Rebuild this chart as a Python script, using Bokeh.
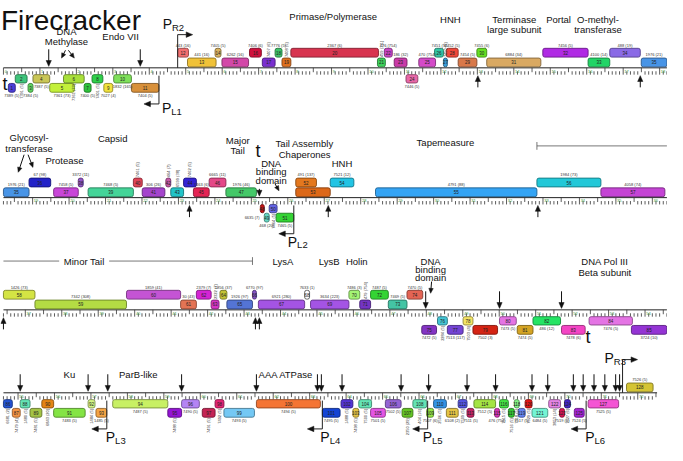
import math
import numpy as np
from bokeh.plotting import figure
from bokeh.models import Range1d
from bokeh.embed import file_html
from bokeh.resources import INLINE
from bokeh.core.properties import value

# ---------------- data ----------------
TITLE = "Firecracker"
ROW_LEN = 18200          # bp per ruler row
GENOME_LEN = 72530       # bp

gene_id = list(range(1, 126)) + [127, 128]
gene_start = [135, 324, 675, 810, 1269, 1647, 2214, 2430, 2754, 3024,
              3510, 4779, 5049, 5805, 5994, 6750, 7101, 7452, 7641, 7884,
              10260, 10449, 10719, 11043, 11394, 11826, 12069, 12150, 12474, 12987,
              13257, 14796, 16038, 16632, 17496, 18902, 19577, 20252, 20522, 21764,
              22007, 22655, 22790, 23141, 23411, 23843, 24302, 25247, 25355, 25490,
              25679, 26219, 26219, 27164, 28406, 32834, 34589, 36400, 37264, 39775,
              41260, 41692, 42097, 42340, 42529, 43231, 43393, 44662, 44824, 45877,
              46174, 46471, 46957, 47470, 47875, 48307, 48577, 49009, 49279, 50008,
              50494, 50926, 51709, 52465, 53626, 54600, 54843, 55059, 55329, 55653,
              55977, 56922, 57138, 57597, 59109, 59487, 60054, 60405, 60648, 61539,
              63348, 63861, 64185, 64347, 64671, 65076, 65535, 65832, 66210, 66399,
              66750, 67074, 67317, 67506, 68073, 68208, 68451, 68613, 68721, 68910,
              69099, 69558, 69855, 69990, 70260, 70638, 71691]
gene_end = [324, 648, 810, 1269, 1944, 2214, 2403, 2727, 2997, 3510,
            4266, 5076, 5832, 5967, 6723, 7074, 7452, 7641, 7884, 10287,
            10476, 10665, 11070, 11367, 11853, 12069, 12177, 12474, 12987, 13257,
            14742, 16038, 16632, 17469, 18902, 19496, 20252, 20387, 21764, 22007,
            22628, 22790, 23141, 23492, 23843, 24302, 25139, 25355, 25490, 25706,
            26165, 26786, 27164, 27812, 32834, 34589, 36344, 37264, 39775, 41260,
            41692, 42097, 42313, 42529, 43231, 43339, 44662, 44797, 45877, 46174,
            46471, 46957, 47470, 47902, 48280, 48577, 49009, 49279, 49954, 50467,
            50926, 51682, 52357, 53653, 54598, 54843, 55059, 55329, 55653, 55977,
            56841, 57111, 57435, 59109, 59487, 59973, 60405, 60648, 61485, 63294,
            63834, 64185, 64347, 64698, 65076, 65508, 65832, 66210, 66399, 66750,
            67074, 67317, 67506, 68100, 68208, 68451, 68613, 68748, 68910, 69099,
            69531, 69882, 69990, 70152, 70530, 71475, 72420]
# +1/+2 = above the ruler (near/far), -1/-2 = below the ruler (near/far)
gene_level = [-2, -1, -2, -1, -2, -1, -2, -1, -2, -1,
              -2, 2, 1, 2, 1, 2, 1, 2, 1, 2,
              1, 2, 1, -1, 1, 2, 1, 2, 1, 2,
              1, 2, 1, 2, 1, 2, 1, 2, 1, 2,
              1, 2, 1, 2, 1, 2, 1, -1, -2, -1,
              -2, 2, 1, 2, 1, 2, 1, 2, 1, 2,
              1, 2, 1, 2, 1, 2, 1, 2, 1, 2,
              1, 2, 1, 2, -2, -1, -2, -1, -2, -1,
              -2, -1, -2, -1, -2, -1, -2, -1, -2, -1,
              -2, -1, -2, -1, -2, -1, -2, -1, -2, -1,
              -2, -1, -2, -1, -2, -1, -2, -1, -2, -1,
              -2, -1, -2, -1, -2, -1, -2, -1, -2, -1,
              -2, -1, -2, -1, -2, -1, 1]
gene_color = ["#4b3fd6", "#3fc47a", "#5fd35f", "#c9c656", "#c3f03a", "#a8e03a", "#2ec33a", "#2fd04a", "#f0e23c", "#7fe05a",
              "#d8903a", "#f27070", "#f0c238", "#d9b25e", "#d248a8", "#d0103c", "#7a2fcf", "#3fc46a", "#e0701e", "#d8344f",
              "#3ccf5a", "#c944c4", "#c93aa8", "#e868a8", "#d44ac8", "#34c6a6", "#3a9ed8", "#f0483a", "#d8784a", "#66e022",
              "#d9a962", "#b02ae4", "#22d466", "#8a6ae6", "#4894e6", "#2222c8", "#c846d8", "#9456c8", "#44d498", "#e04456",
              "#a444cc", "#c658a8", "#22c4c8", "#3424d4", "#e42454", "#e44888", "#44c868", "#c41414", "#66d8c4", "#6464e4",
              "#34d434", "#e4781e", "#dc6818", "#22c4e4", "#34a4f4", "#22c8d8", "#c444d4", "#d4e444", "#b4dc44", "#c454d4",
              "#e47454", "#d424d4", "#d434c4", "#c4c434", "#5474d4", "#8454c4", "#a454e4", "#ffffff", "#a454e4", "#a4f474",
              "#7434c4", "#34d434", "#44c4a4", "#e46454", "#8434c4", "#44c4d4", "#7444d4", "#f4e464", "#d42414", "#e474e4",
              "#d4a424", "#24e464", "#f444c4", "#e474e4", "#9434d4", "#2454d4", "#f49444", "#64e4b4", "#a4c444", "#e48414",
              "#84e444", "#d4f484", "#f4a444", "#c8f064", "#9414d4", "#b484f4", "#c42454", "#e42474", "#74c8f4", "#f47434",
              "#1444d4", "#5434d4", "#e4c444", "#64e4b4", "#e454e4", "#9464d4", "#64c424", "#64e4b4", "#94e444", "#3494e4",
              "#e4c444", "#5454e4", "#c42464", "#a4e444", "#d434b4", "#44e444", "#34c434", "#84f484", "#6484f4", "#e41414",
              "#74f4d4", "#e484e4", "#d41454", "#4424c4", "#a424d4", "#f454d4", "#d4c434"]
gene_note = ["7389 (5)", "7391 (5)", "7384 (5)", "7387 (5)", "7361 (73)", "7361 (73)", "7400 (5)", "7401 (5)", "7027 (4)", "1832 (165)",
             "7404 (5)", "443 (16)", "441 (16)", "7405 (5)", "6262 (16)", "7406 (6)", "7407 (6)", "7776 (5)", "7408 (5)", "2367 (6)",
             "459 (111)", "476 (754)", "186 (32)", "7446 (5)", "470 (754)", "7451 (5)", "7450 (5)", "7452 (5)", "7454 (5)", "7455 (6)",
             "6884 (34)", "7456 (5)", "4100 (14)", "488 (19)", "1976 (21)", "67 (98)", "7458 (5)", "3372 (11)", "7468 (5)", "7461 (5)",
             "306 (26)", "464 (7)", "6599 (38)", "7462 (5)", "7463 (6)", "6665 (11)", "1976 (46)", "6635 (7)", "468 (20)", "7464 (5)",
             "7465 (5)", "491 (137)", "", "7521 (12)", "4791 (88)", "1984 (73)", "4058 (74)", "1426 (73)", "7342 (308)", "1859 (41)",
             "30 (43)", "2379 (7)", "2322 (7)", "1856 (37)", "1926 (97)", "6770 (97)", "6921 (280)", "7633 (1)", "3634 (223)", "7486 (3)",
             "479 (754)", "7487 (5)", "7469 (5)", "7470 (5)", "7472 (5)", "2284 (5)", "7513 (117)", "7503 (4)", "7502 (3)", "7473 (5)",
             "7474 (5)", "486 (12)", "7478 (6)", "7476 (5)", "3724 (10)", "6681 (2)", "7479 (4)", "1480 (5)", "7481 (5)", "6843 (20)",
             "7483 (5)", "1484 (5)", "1485 (5)", "7487 (5)", "7488 (5)", "7490 (5)", "7491 (5)", "7492 (5)", "7493 (5)", "7494 (5)",
             "7495 (5)", "1488 (5)", "7498 (5)", "7500 (5)", "7501 (5)", "7502 (5)", "2350 (29)", "404 (16)", "7507 (6)", "2506 (5)",
             "6108 (2)", "7509 (5)", "7511 (5)", "7512 (5)", "476 (754)", "7515 (5)", "7516 (5)", "7518 (5)", "7517 (5)", "7529 (5)",
             "6484 (5)", "3853 (14)", "7519 (5)", "7527 (6)", "7524 (5)", "7525 (5)", "7526 (5)"]
rot_label_ids = [2, 6, 8, 17, 19, 21, 27, 40, 42, 43, 44, 50, 63, 71, 76, 78, 86, 87, 88, 89, 90,
                 92, 95, 97, 98, 102, 103, 104, 107, 108, 110, 112, 116, 117, 118, 120, 122, 124]
left_label_ids = [48]

# functional annotations (centre position in bp)
feat_text = ["DNA\nMethylase", "Endo VII", "Primase/Polymerase", "HNH", "Terminase\nlarge subunit", "Portal",
             "O-methyl-\ntransferase", "Glycosyl-\ntransferase", "Protease", "Capsid", "Major\nTail",
             "DNA\nbinding\ndomain", "Tail Assembly\nChaperones", "HNH", "Tapemeasure", "LysA", "LysB", "Holin",
             "DNA\nbinding\ndomain", "DNA Pol III\nBeta subunit", "Ku", "ParB-like", "AAA ATPase"]
feat_pos = [1728, 3213, 9045, 12258, 14013, 15228, 16308, 18902, 19874, 21197, 24626, 25544, 26462, 27488,
            30323, 44068, 45337, 46093, 48118, 52897, 56409, 58299, 62349]
minor_tail = ("Minor Tail", 32834, 43231, 38614)

# terminator / regulatory arrows (bp)
down_arrow_pos = [1242, 3753, 25220, 47983, 50008, 51709, 55059, 56922, 57462, 59487, 61539, 63213, 63321,
                  63888, 65508, 66264, 67317, 68100, 69099, 69531, 70233, 70503, 70800, 71097, 71394, 71502]
up_arrow_pos = [13014, 17469, 23303, 27110, 32861, 36400, 43312, 43420]
term_pos = [40, 25180, 52438]   # "t" terminators
prom_name = ["R2", "L1", "L2", "L3", "L4", "L5", "L6", "R3"]
prom_pos = [4779, 4266, 26165, 57435, 63348, 66237, 70584, 71583]
prom_dir = [1, -1, -1, -1, -1, -1, -1, 1]

# ---------------- layout / style ----------------
FONT = value("Liberation Sans")
W, H = 667, 445
X0, X1 = -0.081, 18.216          # kb shown per row
PXK = W / (X1 - X0)              # px per kb on screen
Y_TOP, Y_BOT = 5, 461            # layout units (reference pixels)
ROW_Y = [74, 207, 322, 407]      # ruler line
LEVEL_BOX = {1: (-10, -1), 2: (-20, -11), -1: (7, 15.5), -2: (16, 25)}
feat_y = [37, 42, 21, 24, 24, 24, 24, 145, 169, 146, 148, 172, 152, 172, 151, 272, 272, 272, 272, 272, 388, 388, 388]
feat_dy = [10.5, 11, 11, 11, 11, 11, 11, 11.5, 11, 11, 10.5, 8.5, 10.5, 11, 11, 11, 11, 11, 8.5, 11.5, 11, 11, 11]
down_len = {25220: 7}
term_dy = [17, -48, 28]
prom_lab = {"R2": (-15, -11), "R3": (-18, -2), "L1": (3, 4), "L2": (-6, 8), "L3": (-1, 8),
            "L4": (-2, 8), "L5": (-5, 8), "L6": (-1, 8)}


def dx(px):
    return px / PXK


def rowloc(bp):
    r = min(max(int(bp // ROW_LEN), 0), 3)
    return r, (bp - r * ROW_LEN) / 1000.0


def darken(h, f=0.6):
    h = h.lstrip('#')
    r, g, b = int(h[0:2], 16), int(h[2:4], 16), int(h[4:6], 16)
    if (r, g, b) == (255, 255, 255):
        return "#555555"
    return "#%02x%02x%02x" % (int(r * f), int(g * f), int(b * f))


p = figure(width=W, height=H, x_range=Range1d(X0, X1), y_range=Range1d(Y_BOT, Y_TOP),
           output_backend="svg", toolbar_location=None, min_border=0,
           x_axis_type=None, y_axis_type=None)
p.grid.visible = False
p.outline_line_color = None
p.background_fill_color = "white"
p.border_fill_color = "white"


def arrow_head(xt, yt, ux, uy, L=6.0, Wd=2.6):
    bx, by = -ux * L, -uy * L
    nx, ny = -uy, ux
    xs = [xt, xt + dx(bx + nx * Wd), xt + dx(bx - nx * Wd)]
    ys = [yt, yt + by + ny * Wd, yt + by - ny * Wd]
    return xs, ys


heads_x, heads_y = [], []

# ---------------- rulers ----------------
rl_x0, rl_x1, rl_y = [], [], []
tk_x, tk_y0, tk_y1 = [], [], []
kb_x, kb_y, kb_t = [], [], []
for r in range(4):
    s = r * ROW_LEN
    e = min((r + 1) * ROW_LEN, GENOME_LEN)
    R = ROW_Y[r]
    rl_x0.append(0.0)
    rl_x1.append((e - s) / 1000.0)
    rl_y.append(R)
    for t in range(int(math.ceil(s / 100.0)) * 100, e + 1, 100):
        xl = (t - s) / 1000.0
        if t % 1000 == 0:
            tk_x.append(xl); tk_y0.append(R); tk_y1.append(R + 7)
            kb_x.append(xl + dx(1.2)); kb_y.append(R + 1.8); kb_t.append(str(t // 1000))
        elif t % 500 == 0:
            tk_x.append(xl); tk_y0.append(R); tk_y1.append(R + 4.5)
        else:
            tk_x.append(xl); tk_y0.append(R + 3.5); tk_y1.append(R + 7)
p.segment(x0=rl_x0, y0=rl_y, x1=rl_x1, y1=rl_y, line_color="#222222", line_width=1)
p.segment(x0=tk_x, y0=tk_y0, x1=tk_x, y1=tk_y1, line_color="#333333", line_width=0.8)
p.text(x=kb_x, y=kb_y, text=kb_t, text_font=FONT, text_font_size="4px", text_color="#3c9a3c",
       text_align="left", text_baseline="top")

# ---------------- genes ----------------
q_l, q_r, q_t, q_b, q_f, q_c = [], [], [], [], [], []
n_x, n_y, n_t = [], [], []
la_x, la_y, la_t = [], [], []    # above, horizontal
lb_x, lb_y, lb_t = [], [], []    # below, horizontal
ra_x, ra_y, ra_t = [], [], []    # above, rotated
rb_x, rb_y, rb_t = [], [], []    # below, rotated
ll_x, ll_y, ll_t = [], [], []    # left of gene
for i, g in enumerate(gene_id):
    s, e, lev = gene_start[i], gene_end[i], gene_level[i]
    r0 = int(s // ROW_LEN)
    r1 = int((e - 1) // ROW_LEN)
    for r in range(r0, r1 + 1):
        a = max(s, r * ROW_LEN) - r * ROW_LEN
        b = min(e, (r + 1) * ROW_LEN) - r * ROW_LEN
        R = ROW_Y[r]
        y_top, y_bot = R + LEVEL_BOX[lev][0], R + LEVEL_BOX[lev][1]
        xl, xr = a / 1000.0, b / 1000.0
        xc = (xl + xr) / 2
        q_l.append(xl); q_r.append(xr); q_t.append(y_top); q_b.append(y_bot)
        q_f.append(gene_color[i]); q_c.append(darken(gene_color[i]))
        n_x.append(xc); n_y.append((y_top + y_bot) / 2); n_t.append(str(g))
        note = gene_note[i]
        if not note:
            continue
        if g in left_label_ids:
            ll_x.append(xl - dx(0.8)); ll_y.append(R + 20); ll_t.append(note)
        elif g in rot_label_ids:
            if lev > 0:
                ra_x.append(xc); ra_y.append(y_top - 1); ra_t.append(note)
            else:
                rb_x.append(xc); rb_y.append(y_bot + 1); rb_t.append(note)
        else:
            if lev > 0:
                la_x.append(xc); la_y.append(y_top - 0.8); la_t.append(note)
            else:
                lb_x.append(xc); lb_y.append(y_bot + 0.8); lb_t.append(note)

p.quad(left=q_l, right=q_r, top=q_t, bottom=q_b, fill_color=q_f, line_color=q_c, line_width=0.9,
       border_radius=2)
p.text(x=n_x, y=n_y, text=n_t, text_font=FONT, text_font_size="4.5px", text_color="#222222",
       text_align="center", text_baseline="middle")
common = dict(text_font=FONT, text_font_size="4px", text_color="#333333")
p.text(x=la_x, y=la_y, text=la_t, text_align="center", text_baseline="bottom", **common)
p.text(x=lb_x, y=lb_y, text=lb_t, text_align="center", text_baseline="top", **common)
p.text(x=ra_x, y=ra_y, text=ra_t, text_align="left", text_baseline="middle", angle=math.pi / 2, **common)
p.text(x=rb_x, y=rb_y, text=rb_t, text_align="right", text_baseline="middle", angle=math.pi / 2, **common)
p.text(x=ll_x, y=ll_y, text=ll_t, text_align="right", text_baseline="middle", **common)

# ---------------- terminator arrows ----------------
ar_x0, ar_y0, ar_x1, ar_y1 = [], [], [], []
for bp in down_arrow_pos:
    r, xl = rowloc(bp)
    R = ROW_Y[r]
    L = down_len.get(bp, 17)
    ar_x0.append(xl); ar_y0.append(R - 2 - L); ar_x1.append(xl); ar_y1.append(R - 6)
    hx, hy = arrow_head(xl, R - 1.5, 0, 1)
    heads_x.append(hx); heads_y.append(hy)
for bp in up_arrow_pos:
    r, xl = rowloc(bp)
    R = ROW_Y[r]
    ar_x0.append(xl); ar_y0.append(R + 20); ar_x1.append(xl); ar_y1.append(R + 13)
    hx, hy = arrow_head(xl, R + 8, 0, -1)
    heads_x.append(hx); heads_y.append(hy)

# terminator letters
t_x, t_y = [], []
for k, bp in enumerate(term_pos):
    r, xl = rowloc(bp)
    t_x.append(xl); t_y.append(ROW_Y[r] + term_dy[k])
p.text(x=t_x, y=t_y, text=["t"] * len(t_x), text_font=FONT, text_font_size="18px", text_color="#111111",
       text_align="center", text_baseline="middle")

# ---------------- promoters ----------------
pl_x, pl_y, ps_x, ps_y, ps_t = [], [], [], [], []
pr_xs, pr_ys = [], []
for k, name in enumerate(prom_name):
    r, xl = rowloc(prom_pos[k])
    R = ROW_Y[r]
    d = prom_dir[k]
    if d > 0:
        yv0, ya = R, R - 34
    else:
        yv0, ya = R + 8, R + 37
    pr_xs.append([xl, xl, xl + d * dx(9)])
    pr_ys.append([yv0, ya, ya])
    hx, hy = arrow_head(xl + d * dx(15), ya, d, 0, L=6.5, Wd=2.8)
    heads_x.append(hx); heads_y.append(hy)
    ox, oy = prom_lab[name]
    pl_x.append(xl + dx(ox)); pl_y.append(ya + oy)
    ps_x.append(xl + dx(ox + 9.3)); ps_y.append(ya + oy + 3.5); ps_t.append(name)
p.multi_line(xs=pr_xs, ys=pr_ys, line_color="#222222", line_width=1)
p.text(x=pl_x, y=pl_y, text=["P"] * len(pl_x), text_font=FONT, text_font_size="14px", text_color="#111111",
       text_align="left", text_baseline="middle")
p.text(x=ps_x, y=ps_y, text=ps_t, text_font=FONT, text_font_size="9.5px", text_color="#111111",
       text_align="left", text_baseline="middle")

# ---------------- functional labels ----------------
f_x, f_y, f_t = [], [], []
for k, txt in enumerate(feat_text):
    r, xl = rowloc(feat_pos[k])
    for j, line in enumerate(txt.split("\n")):
        f_x.append(xl); f_y.append(feat_y[k] + j * feat_dy[k]); f_t.append(line)
p.text(x=f_x, y=f_y, text=f_t, text_font=FONT, text_font_size="9.5px", text_color="#111111",
       text_align="center", text_baseline="middle")

# label pointers (start bp, start y, end bp, end y)
ptr = [(1701, 56, 1593, 64), (1782, 56, 1944, 64),
       (18767, 163, 18605, 181), (18875, 163, 19010, 176),
       (25652, 193, 25760, 200), (48145, 293, 48118, 305)]
for (b0, y0, b1, y1) in ptr:
    r, x0 = rowloc(b0)
    _, x1 = rowloc(b1)
    ux, uy = (x1 - x0) * PXK, (y1 - y0)
    nrm = math.hypot(ux, uy)
    ux, uy = ux / nrm, uy / nrm
    ar_x0.append(x0); ar_y0.append(y0)
    ar_x1.append(x1 - dx(ux * 4)); ar_y1.append(y1 - uy * 4)
    hx, hy = arrow_head(x1, y1, ux, uy, L=5, Wd=2.2)
    heads_x.append(hx); heads_y.append(hy)

p.segment(x0=ar_x0, y0=ar_y0, x1=ar_x1, y1=ar_y1, line_color="#111111", line_width=1)
p.patches(xs=heads_x, ys=heads_y, fill_color="#111111", line_color="#111111", line_width=0.5)

# Minor tail bracket
mt_name, mt_s, mt_e, mt_c = minor_tail
r2, x2 = rowloc(mt_s)
yb2 = ROW_Y[r2] - 53
r3, x3e = rowloc(mt_e)
yb3 = ROW_Y[r3] - 50
_, xc3 = rowloc(mt_c)
gap = dx(25)
p.segment(x0=[x2, x2, 0.0, xc3 + gap, x3e], y0=[yb2, yb2 - 4, yb3, yb3, yb3 - 4],
          x1=[ROW_LEN / 1000.0, x2, xc3 - gap, x3e, x3e], y1=[yb2, yb2 + 4, yb3, yb3, yb3 + 4],
          line_color="#555555", line_width=0.8)
p.text(x=[xc3], y=[yb3], text=[mt_name], text_font=FONT, text_font_size="9.5px", text_color="#111111",
       text_align="center", text_baseline="middle")

# title
p.text(x=[X0 + dx(0.5)], y=[25], text=[TITLE], text_font=FONT, text_font_size="28px", text_color="#111111",
       text_align="left", text_baseline="alphabetic")

open("out.html", "w").write(file_html(p, INLINE))
